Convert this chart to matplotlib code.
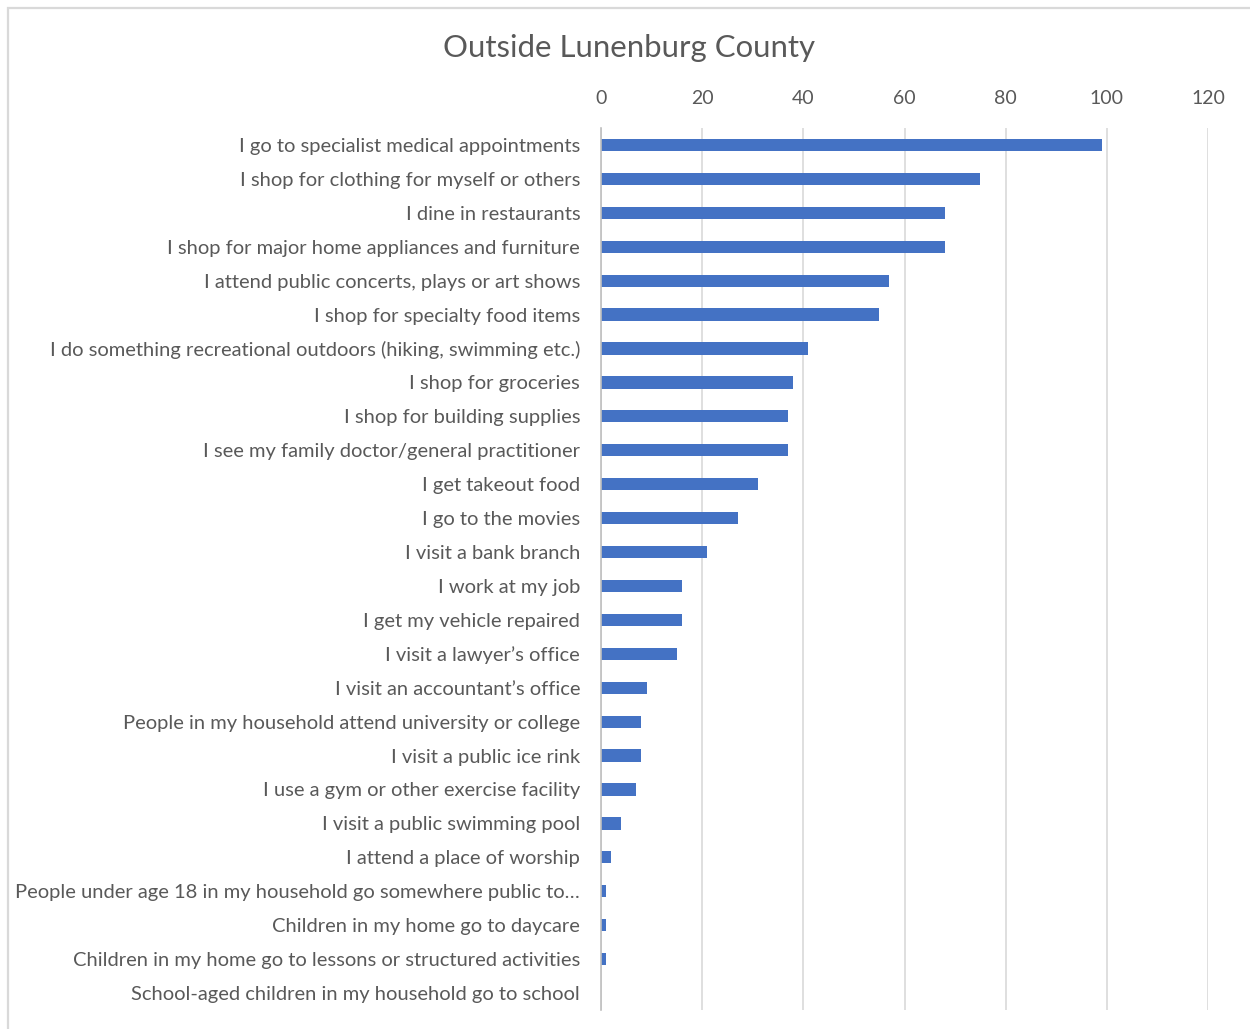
import matplotlib.pyplot as plt
from matplotlib.patches import Rectangle

# Survey responses: where people go outside Lunenburg County
activities = [
    "I go to specialist medical appointments",
    "I shop for clothing for myself or others",
    "I dine in restaurants",
    "I shop for major home appliances and furniture",
    "I attend public concerts, plays or art shows",
    "I shop for specialty food items",
    "I do something recreational outdoors (hiking, swimming etc.)",
    "I shop for groceries",
    "I shop for building supplies",
    "I see my family doctor/general practitioner",
    "I get takeout food",
    "I go to the movies",
    "I visit a bank branch",
    "I work at my job",
    "I get my vehicle repaired",
    "I visit a lawyer\u2019s office",
    "I visit an accountant\u2019s office",
    "People in my household attend university or college",
    "I visit a public ice rink",
    "I use a gym or other exercise facility",
    "I visit a public swimming pool",
    "I attend a place of worship",
    "People under age 18 in my household go somewhere public to\u2026",
    "Children in my home go to daycare",
    "Children in my home go to lessons or structured activities",
    "School-aged children in my household go to school",
]
counts = [99, 75, 68, 68, 57, 55, 41, 38, 37, 37, 31, 27, 21,
          16, 16, 15, 9, 8, 8, 7, 4, 2, 1, 1, 1, 0]
ticks = [0, 20, 40, 60, 80, 100, 120]

text_color = "#595959"
grid_color = "#d9d9d9"
bar_color = "#4472c4"

plt.rcParams["font.family"] = ["Lato", "DejaVu Sans"]

fig = plt.figure(figsize=(12.5, 10.29), dpi=100)
ax = fig.add_axes([0.4808, 0.0185, 0.4856, 0.8571])

y = list(range(len(activities)))
ax.barh(y, counts, height=0.36, color=bar_color, zorder=3)

ax.set_ylim(len(activities) - 0.5, -0.5)
ax.set_xlim(0, 120)
ax.set_yticks(y)
ax.set_yticklabels(activities, fontsize=14.5, color=text_color)
ax.set_xticks(ticks)
ax.set_xticklabels([str(t) for t in ticks], fontsize=14, color=text_color)

ax.xaxis.tick_top()
ax.tick_params(axis="x", length=0, pad=15)
ax.tick_params(axis="y", length=0, pad=15)
ax.grid(axis="x", color=grid_color, linewidth=1.2, zorder=0)

for side in ["top", "right", "bottom"]:
    ax.spines[side].set_visible(False)
ax.spines["left"].set_color("#bfbfbf")
ax.spines["left"].set_linewidth(1.2)
ax.spines["left"].set_zorder(4)

fig.text(0.5035, 0.953, "Outside Lunenburg County", ha="center", va="center",
         fontsize=22.4, color=text_color)

# chart frame
fig.patches.append(Rectangle((8 / 1250, -0.1), 1.2, 0.1 + 1 - 8 / 1029,
                             transform=fig.transFigure, fill=False,
                             edgecolor=grid_color, linewidth=1.6))

fig.savefig("out.png", dpi=100)
